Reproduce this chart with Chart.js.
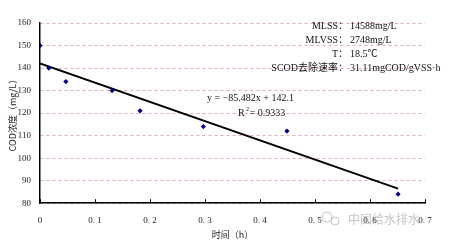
<!DOCTYPE html>
<html>
<head>
<meta charset="utf-8">
<script src="https://cdn.jsdelivr.net/npm/chart.js@4"></script>
<style>
  html, body { margin: 0; padding: 0; background: #fff; }
  #wrap { width: 450px; height: 247px; position: relative; }
</style>
</head>
<body>
<div id="wrap"><canvas id="chart" width="450" height="247"></canvas></div>
<script>
// measured values
const timeH = [0, 0.016, 0.047, 0.131, 0.182, 0.297, 0.449, 0.651];
const codMgL = [150, 140, 134, 130, 121, 114, 112, 84];

// linear fit shown on the chart
const fitSlope = -85.482;
const fitIntercept = 142.1;
const fitRange = [0, 0.651];

const xTicks = [0, 0.1, 0.2, 0.3, 0.4, 0.5, 0.6, 0.7];
const yTicks = [80, 90, 100, 110, 120, 130, 140, 150, 160];

const infoLabels = ['MLSS：', 'MLVSS：', 'T：', 'SCOD去除速率：'];
const infoValues = ['14588mg/L', '2748mg/L', '18.5℃', '31.11mgCOD/gVSS·h'];

const serif = '"Liberation Serif", "Noto Sans CJK SC", serif';
const cjk = '"Noto Sans CJK SC", sans-serif';

const fitLine = fitRange.map(x => ({ x: x, y: fitSlope * x + fitIntercept }));

// draw x tick marks pointing up into the plot, plus the text overlays
const overlay = {
  id: 'overlay',
  afterDraw(chart) {
    const ctx = chart.ctx;
    const xs = chart.scales.x;
    const area = chart.chartArea;
    ctx.save();
    ctx.strokeStyle = '#000';
    ctx.lineWidth = 1;
    xTicks.forEach(v => {
      const px = Math.round(xs.getPixelForValue(v)) + 0.5;
      ctx.beginPath();
      ctx.moveTo(px, area.bottom);
      ctx.lineTo(px, area.bottom - 4);
      ctx.stroke();
    });

    // info box
    ctx.fillStyle = '#111';
    ctx.font = '10px ' + serif;
    ctx.textBaseline = 'middle';
    const colX = 348;
    infoLabels.forEach((t, i) => {
      const py = 26 + i * 14;
      ctx.textAlign = 'right';
      ctx.fillText(t, colX, py);
      ctx.textAlign = 'left';
      ctx.fillText(infoValues[i], colX + 2, py);
    });

    // equation
    ctx.font = '10px ' + serif;
    ctx.textAlign = 'left';
    ctx.fillText('y = −85.482x + 142.1', 207, 98);
    ctx.fillText('R  = 0.9333', 238, 113);
    ctx.font = '6px ' + serif;
    ctx.fillText('2', 246, 109);

    // watermark
    ctx.fillStyle = 'rgba(150,150,150,0.55)';
    ctx.font = '12px ' + cjk;
    ctx.fillText('中国给水排水', 348, 219);
    ctx.strokeStyle = 'rgba(150,150,150,0.55)';
    ctx.beginPath();
    ctx.arc(327, 217, 5, 0, Math.PI * 2);
    ctx.stroke();
    ctx.beginPath();
    ctx.arc(335, 221, 4, 0, Math.PI * 2);
    ctx.stroke();
    ctx.restore();
  }
};

new Chart(document.getElementById('chart'), {
  type: 'scatter',
  data: {
    datasets: [
      {
        label: 'COD',
        data: timeH.map((t, i) => ({ x: t, y: codMgL[i] })),
        pointStyle: 'rectRot',
        pointRadius: 2.6,
        backgroundColor: '#000080',
        borderColor: '#000080',
        borderWidth: 0
      },
      {
        label: 'fit',
        type: 'line',
        data: fitLine,
        borderColor: '#000',
        borderWidth: 2,
        pointRadius: 0,
        fill: false
      }
    ]
  },
  options: {
    responsive: false,
    animation: false,
    layout: { padding: { top: 23, right: 25, left: 7, bottom: 6 } },
    plugins: {
      legend: { display: false },
      tooltip: { enabled: false }
    },
    scales: {
      x: {
        type: 'linear',
        min: 0,
        max: 0.7,
        afterBuildTicks: s => { s.ticks = xTicks.map(v => ({ value: v })); },
        ticks: {
          color: '#222',
          font: { size: 9, family: serif },
          padding: 4,
          maxRotation: 0,
          callback: v => v === 0 ? '0' : v.toFixed(1).replace('.', '. ')
        },
        grid: { display: false },
        border: { color: '#000', width: 1.5 },
        title: {
          display: true,
          text: '时间（h）',
          color: '#222',
          font: { size: 9, family: cjk, lineHeight: 1 },
          padding: { top: 0, bottom: 2 }
        }
      },
      y: {
        min: 80,
        max: 160,
        afterBuildTicks: s => { s.ticks = yTicks.map(v => ({ value: v })); },
        afterFit: s => { s.width = 33; },
        ticks: {
          color: '#222',
          font: { size: 9, family: serif },
          padding: 9
        },
        grid: {
          color: '#e7a7c0',
          lineWidth: 1,
          drawTicks: false
        },
        border: { color: '#000', width: 1.5, dash: [3, 3] },
        title: {
          display: true,
          text: 'COD浓度（mg/L）',
          color: '#222',
          font: { size: 9, family: cjk },
          padding: { top: 0, bottom: 0 }
        }
      }
    }
  },
  plugins: [overlay]
});
</script>
</body>
</html>
